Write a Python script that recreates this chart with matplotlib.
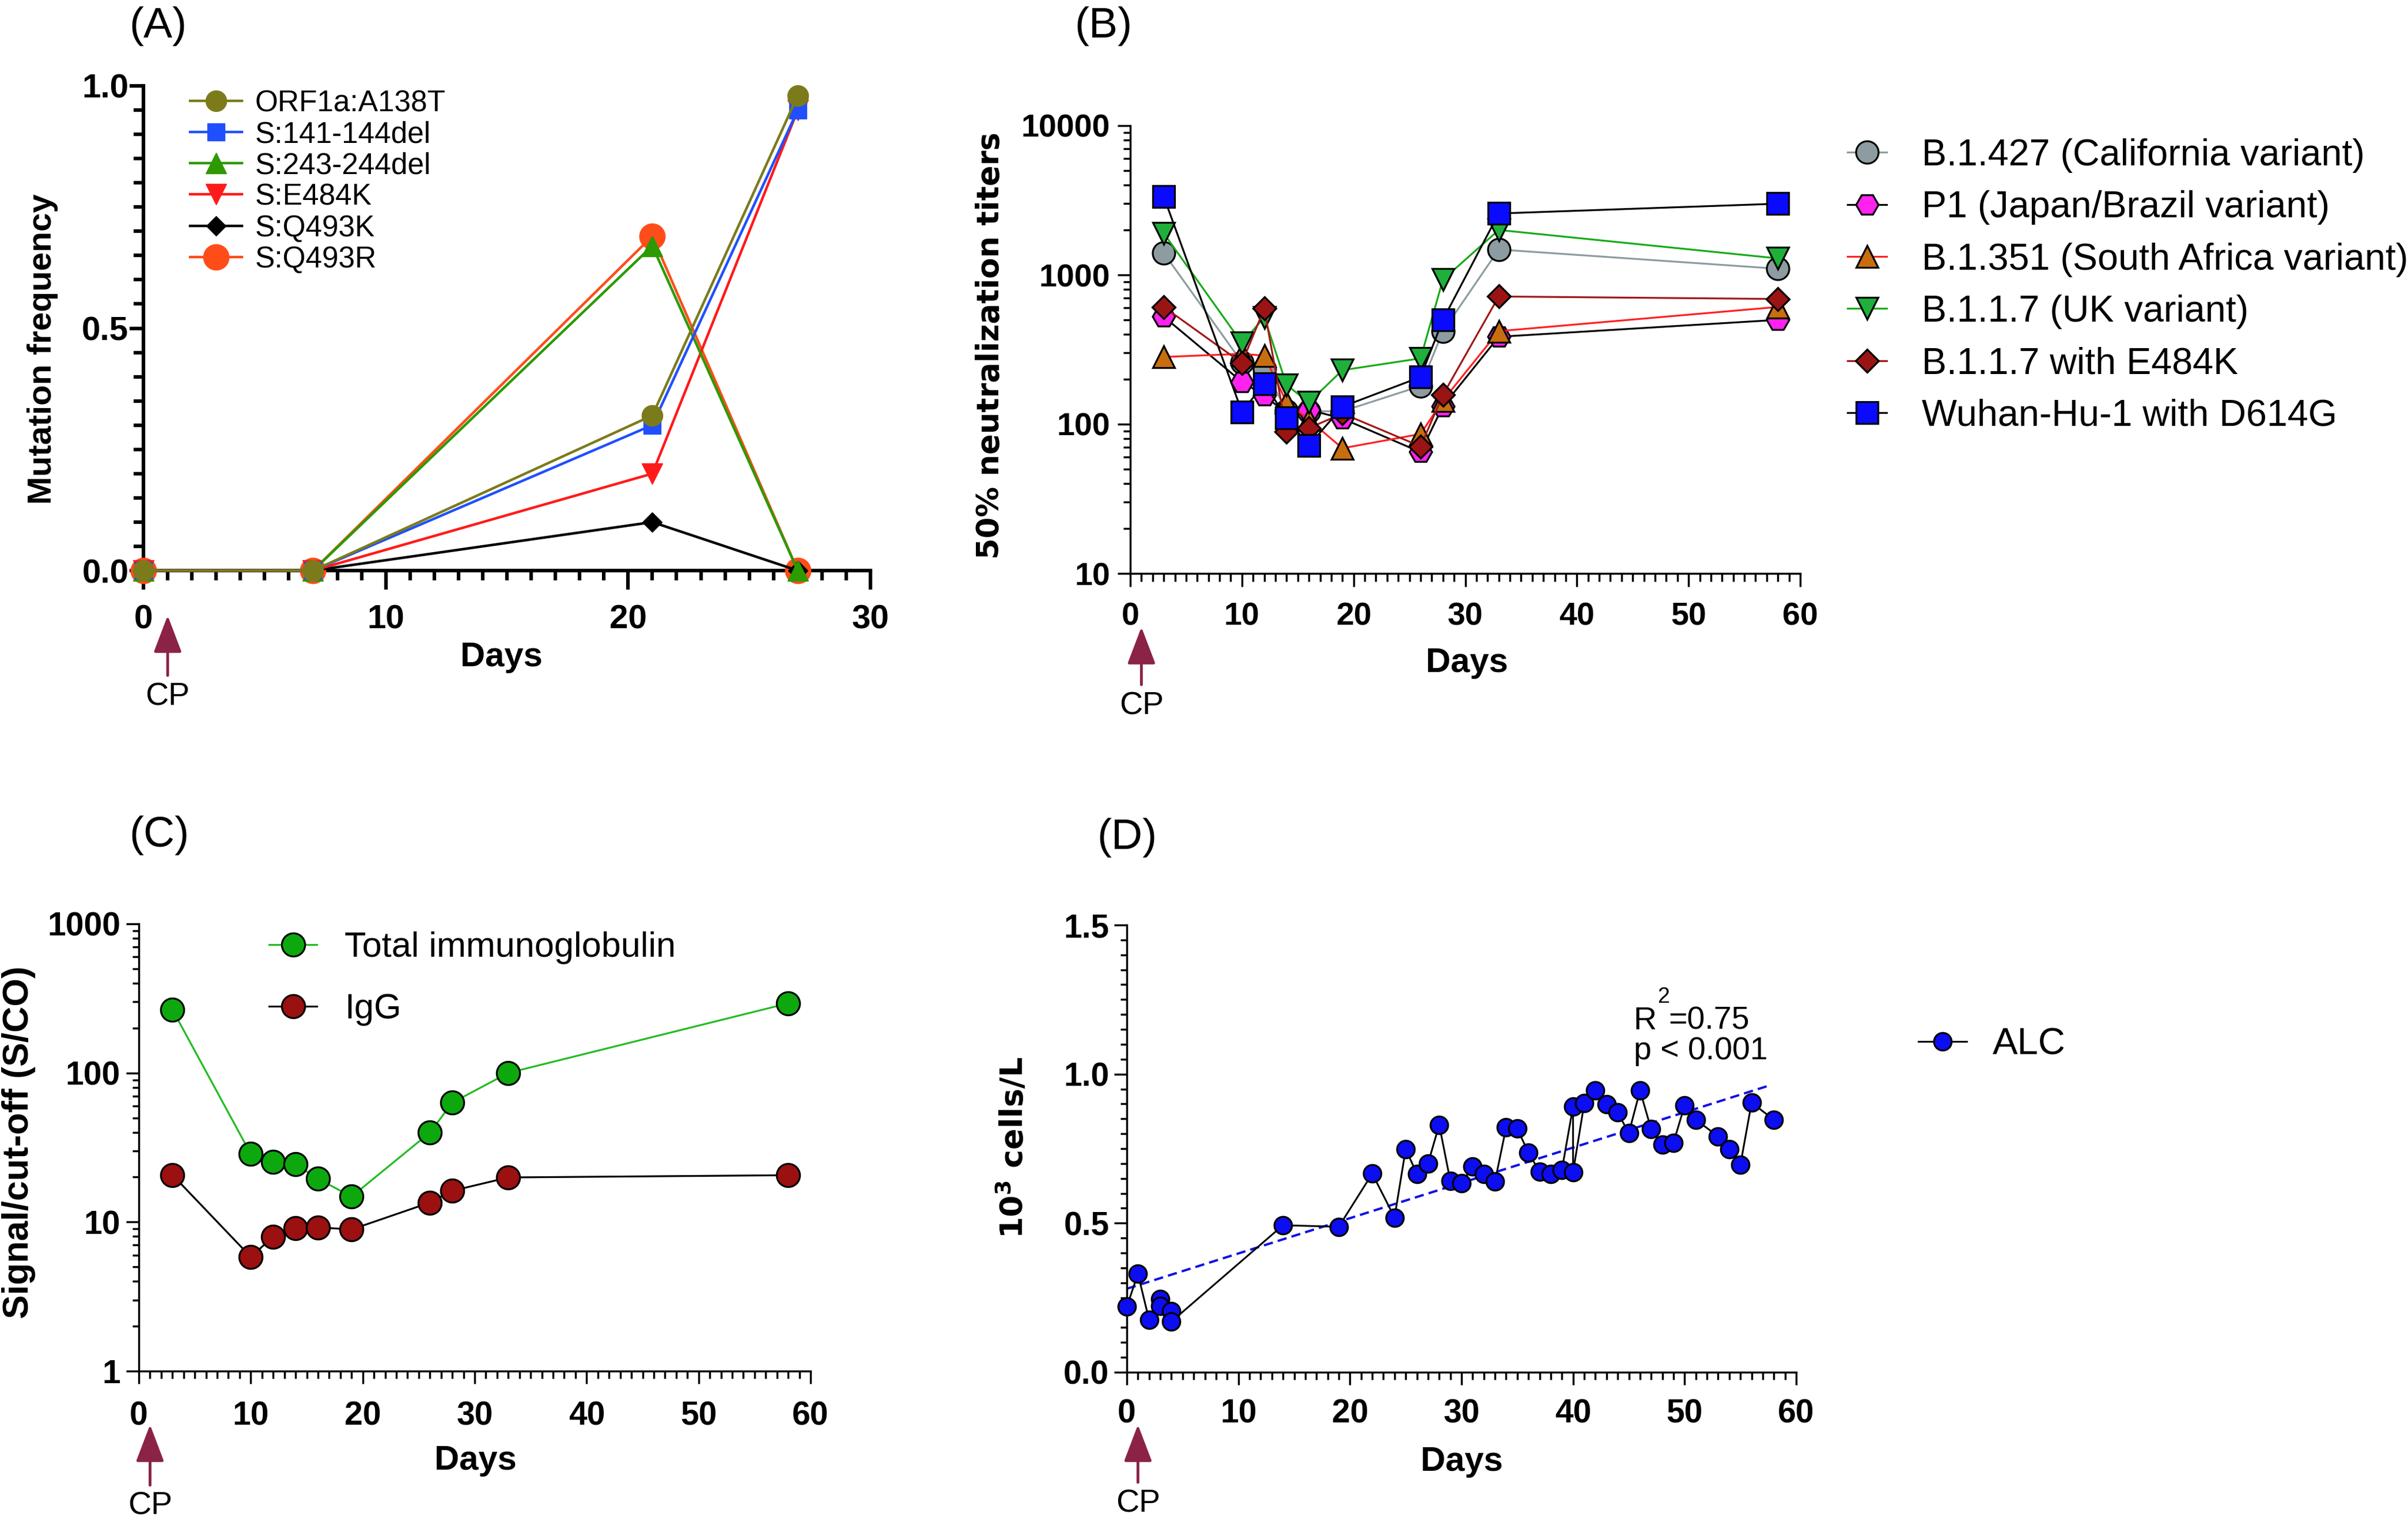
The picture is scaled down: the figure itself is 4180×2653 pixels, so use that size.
import matplotlib
matplotlib.use('Agg')
import matplotlib.pyplot as plt
from matplotlib.ticker import MultipleLocator, LogLocator, FuncFormatter, NullFormatter, FormatStrFormatter

plt.rcParams['font.family'] = ['Liberation Sans', 'DejaVu Sans']

# =========================
# Data
# =========================

# (A) mutation frequency
mut_days = [0, 7, 21, 27]
orf1a_a138t = [0, 0, 0.32, 0.98]
s_141_144del = [0, 0, 0.30, 0.95]
s_243_244del = [0, 0, 0.67, 0]
s_e484k = [0, 0, 0.20, 0.95]
s_q493k = [0, 0, 0.10, 0]
s_q493r = [0, 0, 0.69, 0]

# (B) 50% neutralization titers
neut_days = [3, 10, 12, 14, 16, 19, 26, 28, 33, 58]
b1427 = [1400, 260, 235, 123, 122, 122, 180, 420, 1480, 1100]
p1 = [525, 192, 156, 118, 125, 109, 65, 132, 385, 500]
b1351 = [282, 296, 288, 140, 107, 69, 86, 144, 420, 610]
b117 = [1900, 350, 520, 183, 140, 230, 276, 930, 2000, 1290]
b117_e484k = [610, 257, 595, 89, 94, 118, 71, 157, 717, 690]
wuhan_d614g = [3350, 121, 187, 110, 72, 131, 207, 500, 2580, 3000]

# (C) serology
sero_days = [3, 10, 12, 14, 16, 19, 26, 28, 33, 58]
total_ig = [266, 28.6, 25.3, 24.4, 19.5, 14.8, 39.8, 63.2, 100, 293]
igg = [20.7, 5.83, 7.98, 9.08, 9.21, 8.91, 13.5, 16.2, 19.9, 20.6]

# (D) absolute lymphocyte count
alc_days = [0, 1, 2, 3, 3, 4, 4, 14, 19, 22, 24, 25, 26, 27, 28, 29, 30, 31, 32,
            33, 34, 35, 36, 37, 38, 39, 40, 40, 41, 42, 43, 44, 45, 46, 47, 48,
            49, 50, 51, 53, 54, 55, 56, 58]
alc_vals = [0.22, 0.33, 0.175, 0.245, 0.223, 0.205, 0.17, 0.493, 0.488, 0.666,
            0.519, 0.749, 0.665, 0.70, 0.83, 0.641, 0.634, 0.69, 0.664, 0.64,
            0.821, 0.817, 0.736, 0.673, 0.664, 0.679, 0.891, 0.671, 0.902, 0.946,
            0.898, 0.871, 0.802, 0.945, 0.815, 0.763, 0.770, 0.895, 0.847, 0.791,
            0.748, 0.696, 0.904, 0.847]
fit_days = [0, 57.7]
fit_vals = [0.28, 0.963]

cp_day = 1

# =========================
# Figure / axes
# =========================

W, H = 4180, 2653
fig = plt.figure(figsize=(W / 100, H / 100), dpi=100)


def px_axes(left, top, right, bottom):
    return fig.add_axes([left / W, 1 - bottom / H, (right - left) / W, (bottom - top) / H])


def fy(py):
    return 1 - py / H


def style(ax, lw, xmaj, xmin, ymaj, ymin, fs, xpad, ypad):
    for s in ['top', 'right']:
        ax.spines[s].set_visible(False)
    for s in ['left', 'bottom']:
        ax.spines[s].set_linewidth(lw)
    ax.tick_params(which='both', direction='out', width=lw, labelsize=fs)
    ax.tick_params(axis='x', which='major', length=xmaj, pad=xpad)
    ax.tick_params(axis='x', which='minor', length=xmin)
    ax.tick_params(axis='y', which='major', length=ymaj, pad=ypad)
    ax.tick_params(axis='y', which='minor', length=ymin)
    plt.setp(ax.get_xticklabels() + ax.get_yticklabels(), fontweight='bold')


def cp_arrow(ax, tip, tail, label_y):
    ax.annotate('', xy=(cp_day, fy(tip)), xytext=(cp_day, fy(tail)),
                xycoords=('data', 'figure fraction'), textcoords=('data', 'figure fraction'),
                arrowprops=dict(arrowstyle='-|>,head_length=1.0,head_width=0.38',
                                color='#8b2346', lw=3.5, mutation_scale=40,
                                shrinkA=0, shrinkB=0))
    ax.annotate('CP', xy=(cp_day, fy(label_y)), xycoords=('data', 'figure fraction'),
                ha='center', va='center', fontsize=40)


plain = FuncFormatter(lambda v, p: '%d' % v)

# ---------- (A) ----------
axA = px_axes(249, 149, 1511, 990)
seriesA = [
    ('ORF1a:A138T', orf1a_a138t, '#7b7b1c', 'o', 26),
    ('S:141-144del', s_141_144del, '#1f4fff', 's', 22),
    ('S:243-244del', s_243_244del, '#2c9a00', '^', 26),
    ('S:E484K', s_e484k, '#ff1a1a', 'v', 26),
    ('S:Q493K', s_q493k, '#000000', 'D', 17),
    ('S:Q493R', s_q493r, '#ff4d1a', 'o', 32),
]
for i, (lab, vals, col, mk, ms) in enumerate(seriesA):
    axA.plot(mut_days, vals, color=col, marker=mk, ms=ms, lw=3.2, mec=col,
             label=lab, clip_on=False, zorder=10 - i)
axA.set_xlim(0, 30)
axA.set_ylim(0, 1.0)
axA.xaxis.set_major_locator(MultipleLocator(10))
axA.xaxis.set_minor_locator(MultipleLocator(1))
axA.yaxis.set_major_locator(MultipleLocator(0.5))
axA.yaxis.set_minor_locator(MultipleLocator(0.05))
axA.yaxis.set_major_formatter(FormatStrFormatter('%.1f'))
style(axA, 4.5, 24, 12, 17, 12, 42, 18, 1.5)
axA.legend(loc='upper left', bbox_to_anchor=(0.064, 1 - 6 / 841), frameon=False, fontsize=37,
           borderpad=0, borderaxespad=0, labelspacing=0.1, handlelength=1.75,
           handletextpad=0.45)
cp_arrow(axA, 1068, 1172, 1210)

# ---------- (B) ----------
axB = px_axes(1962, 218, 3125, 995)
seriesB = [
    ('B.1.427 (California variant)', b1427, '#8c9ca0', '#8c9ca0', 'o', 28),
    ('P1 (Japan/Brazil variant)', p1, '#ff22ee', '#000000', 'H', 28),
    ('B.1.351 (South Africa variant)', b1351, '#c86e0f', '#ff2020', '^', 27),
    ('B.1.1.7 (UK variant)', b117, '#1fb03c', '#18aa18', 'v', 27),
    ('B.1.1.7 with E484K', b117_e484k, '#9b1414', '#a01818', 'D', 20),
    ('Wuhan-Hu-1 with D614G', wuhan_d614g, '#0a0aff', '#000000', 's', 27),
]
for i, (lab, vals, fc, lc, mk, ms) in enumerate(seriesB):
    axB.plot(neut_days, vals, color=lc, marker=mk, ms=ms, mfc=fc, mec='black',
             mew=2.3, lw=2.3, label=lab, clip_on=False, zorder=3 + i)
axB.set_yscale('log')
axB.set_xlim(0, 60)
axB.set_ylim(10, 10000)
axB.xaxis.set_major_locator(MultipleLocator(10))
axB.xaxis.set_minor_locator(MultipleLocator(1))
axB.yaxis.set_major_locator(LogLocator(base=10))
axB.yaxis.set_minor_locator(LogLocator(base=10, subs=range(2, 10)))
axB.yaxis.set_major_formatter(plain)
axB.yaxis.set_minor_formatter(NullFormatter())
style(axB, 2.5, 16.5, 10, 16, 9, 40, 19, 9)
axB.legend(loc='upper left', bbox_to_anchor=(3207 / W, fy(240)),
           bbox_transform=fig.transFigure, frameon=False, fontsize=46.5,
           borderpad=0, borderaxespad=0, labelspacing=0.47, handlelength=1.05,
           handletextpad=0.95)
cp_arrow(axB, 1088, 1188, 1225)

# ---------- (C) ----------
axC = px_axes(241, 1603, 1407, 2379)
axC.plot(sero_days, total_ig, color='#22bb22', lw=2.3, marker='o', ms=29,
         mfc='#0da80d', mec='black', mew=2.3, label='Total immunoglobulin', clip_on=False)
axC.plot(sero_days, igg, color='black', lw=2.3, marker='o', ms=29,
         mfc='#9b1010', mec='black', mew=2.3, label='IgG', clip_on=False)
axC.set_yscale('log')
axC.set_xlim(0, 60)
axC.set_ylim(1, 1000)
axC.xaxis.set_major_locator(MultipleLocator(10))
axC.xaxis.set_minor_locator(MultipleLocator(1))
axC.yaxis.set_major_locator(LogLocator(base=10))
axC.yaxis.set_minor_locator(LogLocator(base=10, subs=range(2, 10)))
axC.yaxis.set_major_formatter(plain)
axC.yaxis.set_minor_formatter(NullFormatter())
style(axC, 2.5, 16, 9, 16, 8, 41, 21, 7)
axC.legend(loc='upper left', bbox_to_anchor=(467 / W, fy(1616)),
           bbox_transform=fig.transFigure, frameon=False, fontsize=44,
           borderpad=0, borderaxespad=0, labelspacing=0.82, handlelength=1.36,
           handletextpad=0.79)
cp_arrow(axC, 2472, 2577, 2613)

# ---------- (D) ----------
axD = px_axes(1956, 1605, 3118, 2381)
axD.plot(fit_days, fit_vals, color='#1010e6', lw=2.9, ls=(0, (4, 2.2)), zorder=2)
axD.plot(alc_days, alc_vals, color='black', lw=2.2, marker='o', ms=22,
         mfc='#0d0df2', mec='black', mew=2.3, label='ALC', clip_on=False, zorder=3)
axD.set_xlim(0, 60)
axD.set_ylim(0, 1.5)
axD.xaxis.set_major_locator(MultipleLocator(10))
axD.xaxis.set_minor_locator(MultipleLocator(1))
axD.yaxis.set_major_locator(MultipleLocator(0.5))
axD.yaxis.set_minor_locator(MultipleLocator(0.05))
axD.yaxis.set_major_formatter(FormatStrFormatter('%.1f'))
style(axD, 2.5, 16, 9, 16, 8, 41, 17, 6)
axD.legend(loc='upper left', bbox_to_anchor=(3330 / W, fy(1783)),
           bbox_transform=fig.transFigure, frameon=False, fontsize=47,
           borderpad=0, borderaxespad=0, handlelength=1.28, handletextpad=0.7)
cp_arrow(axD, 2472, 2572, 2609)

fig.text(2836 / W, fy(1786), 'R', fontsize=40, va='baseline', ha='left')
fig.text(2877 / W, fy(1740), '2', fontsize=27, va='baseline', ha='left')
fig.text(2896 / W, fy(1786), '=0.75', fontsize=40, va='baseline', ha='left')
fig.text(2836 / W, fy(1838), 'p < 0.001', fontsize=40, va='baseline', ha='left')

# ---------- labels ----------
for txt, x, y in [('(A)', 274, 45), ('(B)', 1915, 45), ('(C)', 276, 1449), ('(D)', 1956, 1453)]:
    fig.text(x / W, fy(y), txt, fontsize=54, ha='center', va='center')

for x, y in [(870, 1140), (2546, 1150), (825, 2535), (2537, 2537)]:
    fig.text(x / W, fy(y), 'Days', fontsize=43, fontweight='bold', ha='center', va='center')

plt.rcParams['mathtext.fontset'] = 'dejavusans'
fig.text(74 / W, fy(606), 'Mutation frequency', fontsize=42, fontweight='bold',
         rotation=90, ha='center', va='center')
fig.text(1719 / W, fy(600), '50% neutralization titers', fontsize=38, fontweight='bold',
         family='DejaVu Sans', rotation=90, ha='center', va='center')
fig.text(33 / W, fy(1982), 'Signal/cut-off (S/CO)', fontsize=45, fontweight='bold',
         rotation=90, ha='center', va='center')
fig.text(1758 / W, fy(1991), r'$\mathbf{10^{3}}$ cells/L', fontsize=39, fontweight='bold',
         family='DejaVu Sans', rotation=90, ha='center', va='center')

fig.savefig('out.png', dpi=100, facecolor='white')
